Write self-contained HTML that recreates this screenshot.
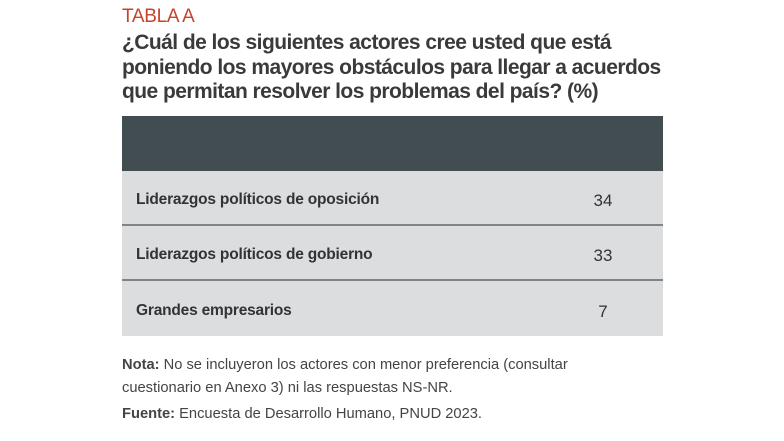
<!DOCTYPE html>
<html><head><meta charset="utf-8"><style>
body{margin:0;width:784px;height:441px;background:#fff;font-family:"Liberation Sans",sans-serif;position:relative;overflow:hidden;color:#333}
.a{position:absolute;white-space:nowrap}
.t{left:122px;top:6px;font-size:19px;color:#c8432a;font-weight:normal;letter-spacing:-0.3px}
.q{left:122px;font-size:21px;font-weight:bold;color:#3a3a3a;letter-spacing:-0.55px}
.hd{left:122px;top:116px;width:541px;height:55px;background:#424d51}
.row{left:122px;width:541px;height:53px;background:#dcdddf;border-bottom:2px solid #7e8487}
.lab{position:absolute;left:14px;top:20px;font-size:15.5px;font-weight:bold;color:#333;letter-spacing:-0.2px}
.num{position:absolute;left:466px;width:30px;text-align:center;top:20px;font-size:17px;color:#333}
.n{left:122px;font-size:14.7px;color:#444}
</style></head><body>
<div class="a t">TABLA A</div>
<div class="a q" style="top:31px">¿Cuál de los siguientes actores cree usted que está</div>
<div class="a q" style="top:56px">poniendo los mayores obstáculos para llegar a acuerdos</div>
<div class="a q" style="top:80px">que permitan resolver los problemas del país? (%)</div>
<div class="a hd"></div>
<div class="a row" style="top:171px"><span class="lab">Liderazgos políticos de oposición</span><span class="num">34</span></div>
<div class="a row" style="top:226px"><span class="lab">Liderazgos políticos de gobierno</span><span class="num">33</span></div>
<div class="a row" style="top:281px;height:55px;border:none"><span class="lab" style="top:21px">Grandes empresarios</span><span class="num" style="top:21px">7</span></div>
<div class="a n" style="top:357px"><b>Nota:</b> No se incluyeron los actores con menor preferencia (consultar</div>
<div class="a n" style="top:380px">cuestionario en Anexo 3) ni las respuestas NS-NR.</div>
<div class="a n" style="top:406px"><b>Fuente:</b> Encuesta de Desarrollo Humano, PNUD 2023.</div>
</body></html>
